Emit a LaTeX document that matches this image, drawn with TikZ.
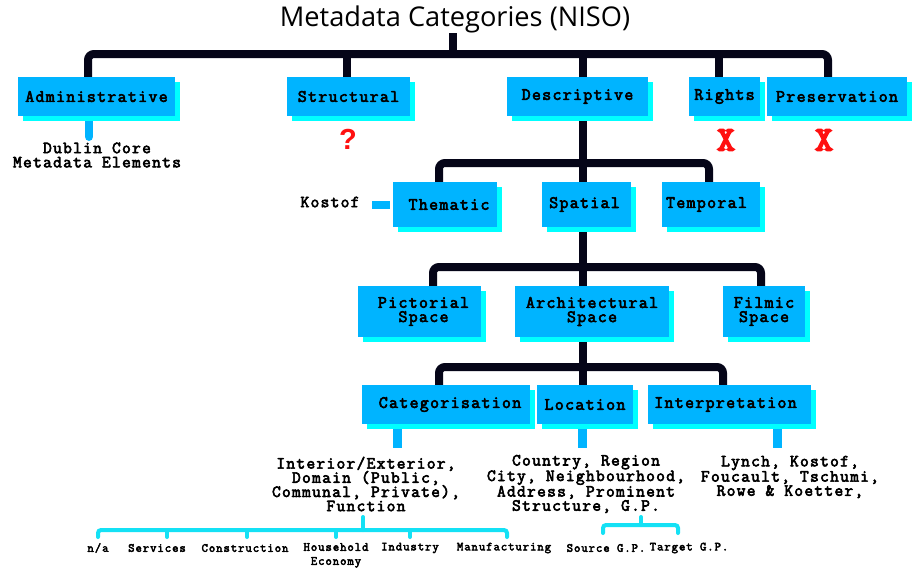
\documentclass[tikz,border=0pt]{standalone}
\usepackage{fontspec}
\newfontfamily\cour{Latin Modern Mono}[LetterSpace=7.5, FakeBold=3.5]
\newfontfamily\courx{Latin Modern Mono}[FakeBold=6]
\newfontfamily\titlefont{Open Sans}
\newfontfamily\qfont{Liberation Sans}
\usetikzlibrary{shadows,backgrounds,calc}
\definecolor{boxblue}{HTML}{00B4FF}
\definecolor{shadowcyan}{HTML}{00FFFF}
\definecolor{busdark}{HTML}{050518}
\definecolor{brkcyan}{HTML}{14E1F5}
\definecolor{xred}{HTML}{FF1010}
\begin{document}
\begin{tikzpicture}[x=1pt,y=-1pt,
  bx/.style={fill=boxblue, inner sep=0pt, minimum height=39pt, align=center, text=black,
    font=\cour\fontsize{17.4}{14.2}\selectfont,
    drop shadow={shadow xshift=5pt, shadow yshift=-5pt, fill=shadowcyan, opacity=1}},
  txt/.style={inner sep=0pt, align=center, text=black, font=\cour\fontsize{17}{14.2}\selectfont},
  small/.style={inner sep=0pt, align=center, text=black, font=\cour\fontsize{12.4}{14}\selectfont},
  mark x/.style={inner sep=0pt, text=xred, font=\courx\fontsize{34}{34}\selectfont},
  bus/.style={draw=busdark, line width=8pt, rounded corners=6pt},
  stub/.style={draw=boxblue, line width=8.5pt},
  brk/.style={draw=brkcyan, line width=4pt, rounded corners=3pt, line cap=round}]
\useasboundingbox (0,0) rectangle (913,570);

% title
\node[inner sep=0pt, font=\titlefont\fontsize{27.2}{32}\selectfont] (title) at (455,19) {Metadata Categories (NISO)};

% level 1
\node[bx, minimum width=157pt] (adm) at (96.5,96.5) {Administrative};
\node[bx, minimum width=123pt] (str) at (348.5,96.5) {Structural};
\node[bx, minimum width=141pt] (des) at (577.5,96.5) {Descriptive};
\node[bx, minimum width=71pt] (rig) at (724.5,96.5) {Rights};
\node[bx, minimum width=140pt] (pre) at (837,96.5) {Preservation};

% level 2
\node[bx, minimum width=104pt, minimum height=45pt] (the) at (445,204.5) {\hspace*{8pt}Thematic};
\node[bx, minimum width=89pt, minimum height=45pt] (spa) at (586.5,204.5) {Spatial\hspace*{4pt}};
\node[bx, minimum width=98pt, minimum height=45pt] (tem) at (711,204.5) {Temporal\hspace*{9pt}};

% level 3
\node[bx, minimum width=123pt, minimum height=51pt] (pic) at (419.5,311.5) {\hspace*{8pt}Pictorial\\\hspace*{8pt}Space};
\node[bx, minimum width=154pt, minimum height=51pt] (arc) at (592,311.5) {Architectural\\Space};
\node[bx, minimum width=82pt, minimum height=51pt] (fil) at (764,311.5) {Filmic\\Space};

% level 4
\node[bx, minimum width=168pt] (cat) at (446,404.5) {\hspace*{8pt}Categorisation};
\node[bx, minimum width=96pt] (loc) at (585,404.5) {Location};
\node[bx, minimum width=163pt] (int) at (729.5,404.5) {Interpretation\hspace*{8pt}};

% annotations
\node[txt] (dub) at (97,155) {Dublin Core\\Metadata Elements};
\node[inner sep=0pt, text=xred, font=\qfont\bfseries\fontsize{29}{29}\selectfont] (qm) at (348,139) {?};
\node[mark x] (xr) at (726,140) {X};
\node[mark x] (xp) at (824,140) {X};
\node[txt] (kos) at (330,202) {Kostof};
\node[txt] (cattxt) at (366,484) {Interior/Exterior,\\Domain (Public,\\Communal, Private),\\Function};
\node[txt] (loctxt) at (586,484) {Country, Region\\City, Neighbourhood,\\Address, Prominent\\Structure, G.P.};
\node[txt] (inttxt) at (790,477) {Lynch, Kostof,\\Foucault, Tschumi,\\Rowe \& Koetter,};

% bottom labels
\node[small] (na) at (98,548) {n/a};
\node[small] (srv) at (157,548) {Services};
\node[small] (con) at (245,548) {Construction};
\node[small, anchor=north] (hou) at (336,543) {Household\\Economy};
\node[small] (ind) at (410,548) {Industry};
\node[small] (man) at (504,548) {Manufacturing};
\node[small] (src) at (606,548) {Source G.P.};
\node[small] (tgt) at (689,548) {Target G.P.};

\begin{scope}[on background layer]
  \fill[white] (0,0) rectangle (913,570);
  % top bus
  \coordinate (tb) at (453,54);
  \coordinate (aA) at ([xshift=-8.5pt]adm.north);
  \coordinate (aS) at ([xshift=-1.5pt]str.north);
  \coordinate (aD) at ([xshift=5.5pt]des.north);
  \coordinate (aR) at ([xshift=-5.5pt]rig.north);
  \coordinate (aP) at ([xshift=-9pt]pre.north);
  \draw[bus] (aA) |- (tb) -| (aP);
  \draw[bus] (tb) -- (tb |- title.south);
  \draw[bus] (aS) -- (aS |- tb);
  \draw[bus] (aD) -- (aD |- tb);
  \draw[bus] (aR) -- (aR |- tb);
  % descriptive -> level 2
  \coordinate (dD) at ([xshift=5.5pt]des.south);
  \draw[bus] (dD) -- (dD |- spa.north);
  \coordinate (l2) at (583,163);
  \coordinate (aT) at ([xshift=-6pt]the.north);
  \coordinate (aM) at ([xshift=-2pt]tem.north);
  \draw[bus] (aT) |- (l2) -| (aM);
  % spatial -> level 3
  \coordinate (sD) at ([xshift=-3.5pt]spa.south);
  \draw[bus] (sD) -- (sD |- arc.north);
  \coordinate (l3) at (583,267);
  \coordinate (aPi) at ([xshift=13.5pt]pic.north);
  \coordinate (aF) at ([xshift=-3pt]fil.north);
  \draw[bus] (aPi) |- (l3) -| (aF);
  % architectural -> level 4
  \coordinate (rD) at ([xshift=-9pt]arc.south);
  \draw[bus] (rD) -- (rD |- loc.north);
  \coordinate (l4) at (583,367);
  \coordinate (aC) at ([xshift=-7pt]cat.north);
  \coordinate (aI) at ([xshift=-6.5pt]int.north);
  \draw[bus] (aC) |- (l4) -| (aI);
  % light blue stubs
  \coordinate (sA) at ([xshift=-7.5pt]adm.south);
  \draw[stub, line cap=round] (sA) -- ++(0,20.5);
  \coordinate (sC) at ([xshift=-48.5pt]cat.south);
  \draw[stub] (sC) -- (sC |- 0,448);
  \coordinate (sL) at ([xshift=-2.5pt]loc.south);
  \draw[stub] (sL) -- (sL |- 0,448);
  \coordinate (sI) at ([xshift=48pt]int.south);
  \draw[stub] (sI) -- (sI |- 0,448);
  \draw[draw=boxblue, line width=8pt] ([xshift=-3pt]the.west) -- ([xshift=-21pt]the.west);
\end{scope}

% function bracket
\coordinate (ft) at (363,517);
\coordinate (fb) at (363,530);
\coordinate (d1) at (98,537);
\coordinate (d2) at (167,537);
\coordinate (d3) at (247,537);
\coordinate (d4) at (336,537);
\coordinate (d5) at (410,537);
\coordinate (d6) at (507,537);
\draw[brk] (ft) -- (fb);
\draw[brk] (d1) |- (fb) -| (d6);
\foreach \d in {d2,d3,d4,d5} \draw[brk] (\d) -- (\d |- fb);

% G.P. bracket
\coordinate (gt) at (641,517);
\coordinate (gb) at (641,525);
\coordinate (g1) at (603,533);
\coordinate (g2) at (678,533);
\draw[brk] (gt) -- (gb);
\draw[brk] (g1) |- (gb) -| (g2);
\end{tikzpicture}
\end{document}
